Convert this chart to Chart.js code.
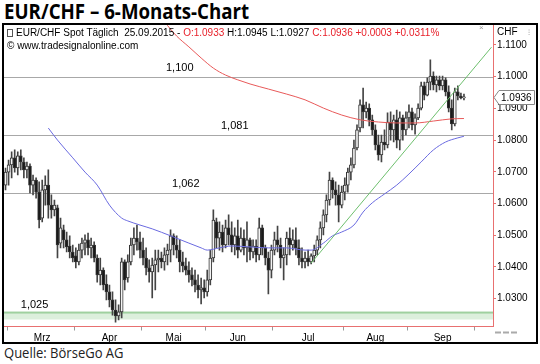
<!DOCTYPE html>
<html>
<head>
<meta charset="utf-8">
<script src="https://cdn.jsdelivr.net/npm/chart.js@4.4.0/dist/chart.umd.min.js"></script>
<style>
html, body { margin: 0; padding: 0; background: #fff; }
body { width: 540px; height: 364px; position: relative; overflow: hidden; font-family: "Liberation Sans", Arial, sans-serif; }
#title { position: absolute; left: 4px; top: -3px; font-family: "Open Sans", sans-serif; font-weight: bold; font-size: 21px; color: #000; transform: scaleX(0.89); transform-origin: left top; white-space: nowrap; }
#frame { position: absolute; left: 2px; top: 23px; width: 532px; height: 317px; border: 2px solid #000; }
#frame canvas { position: absolute; left: 0; top: 0; }
.head { position: absolute; left: 3px; font-size: 10px; color: #000; white-space: nowrap; }
.red { color: #e8202a; }
.icon { display: inline-block; width: 4px; height: 6px; border: 1px solid #555; margin-right: 3px; vertical-align: -1px; }
#src { position: absolute; left: 4px; top: 343px; font-family: "Open Sans", sans-serif; font-size: 14px; color: #222; transform: scaleX(0.93); transform-origin: left top; white-space: nowrap; }
</style>
</head>
<body>
<div id="title">EUR/CHF – 6-Monats-Chart</div>
<div id="frame">
  <canvas id="chart" width="532" height="317"></canvas>
  <div class="head" style="top:2px;"><span class="icon"></span>EUR/CHF Spot Täglich&nbsp; 25.09.2015 - <span class="red">O:1.0933</span> H:1.0945 L:1.0927 <span class="red">C:1.0936 +0.0003 +0.0311%</span></div>
  <div class="head" style="top:15px;">© www.tradesignalonline.com</div>
</div>
<div id="src">Quelle: BörseGo AG</div>
<script>
// daily candles, 27.02.2015 - 25.09.2015
const openP = [
  1.0658, 1.0699, 1.0722, 1.0744, 1.0712, 1.0750, 1.0731, 1.0706, 1.0718, 1.0658,
  1.0674, 1.0636, 1.0554, 1.0643, 1.0658, 1.0595, 1.0580, 1.0586, 1.0475, 1.0517,
  1.0485, 1.0466, 1.0447, 1.0435, 1.0416, 1.0453, 1.0475, 1.0485, 1.0460, 1.0469,
  1.0428, 1.0375, 1.0390, 1.0346, 1.0321, 1.0296, 1.0264, 1.0245, 1.0258, 1.0416,
  1.0365, 1.0416, 1.0469, 1.0491, 1.0479, 1.0453, 1.0428, 1.0397, 1.0384, 1.0406,
  1.0422, 1.0428, 1.0416, 1.0438, 1.0453, 1.0498, 1.0469, 1.0453, 1.0416, 1.0403,
  1.0390, 1.0375, 1.0359, 1.0343, 1.0327, 1.0334, 1.0321, 1.0359, 1.0428, 1.0542,
  1.0491, 1.0510, 1.0469, 1.0523, 1.0501, 1.0469, 1.0498, 1.0453, 1.0491, 1.0460,
  1.0485, 1.0447, 1.0466, 1.0438, 1.0523, 1.0460, 1.0428, 1.0390, 1.0453, 1.0485,
  1.0469, 1.0428, 1.0438, 1.0491, 1.0469, 1.0485, 1.0460, 1.0428, 1.0416, 1.0428,
  1.0416, 1.0435, 1.0453, 1.0485, 1.0523, 1.0564, 1.0611, 1.0674, 1.0643, 1.0627,
  1.0595, 1.0636, 1.0658, 1.0699, 1.0722, 1.0775, 1.0838, 1.0911, 1.0889, 1.0901,
  1.0864, 1.0832, 1.0785, 1.0753, 1.0794, 1.0785, 1.0857, 1.0832, 1.0864, 1.0800,
  1.0870, 1.0832, 1.0870, 1.0889, 1.0848, 1.0870, 1.0901, 1.0971, 1.0942, 1.0983,
  1.1002, 1.0974, 1.0990, 1.0971, 1.0990, 1.0952, 1.0901, 1.0851, 1.0952, 1.0939,
  1.0933
];
const highP = [
  1.0712, 1.0737, 1.0763, 1.0769, 1.0763, 1.0769, 1.0744, 1.0731, 1.0725, 1.0690,
  1.0681, 1.0668, 1.0674, 1.0687, 1.0706, 1.0627, 1.0611, 1.0595, 1.0554, 1.0532,
  1.0510, 1.0498, 1.0469, 1.0460, 1.0472, 1.0491, 1.0501, 1.0507, 1.0491, 1.0479,
  1.0438, 1.0428, 1.0397, 1.0375, 1.0343, 1.0321, 1.0296, 1.0280, 1.0428, 1.0422,
  1.0438, 1.0491, 1.0523, 1.0532, 1.0510, 1.0491, 1.0460, 1.0422, 1.0428, 1.0453,
  1.0453, 1.0447, 1.0460, 1.0472, 1.0517, 1.0504, 1.0498, 1.0485, 1.0447, 1.0428,
  1.0416, 1.0397, 1.0390, 1.0375, 1.0365, 1.0359, 1.0390, 1.0453, 1.0580, 1.0554,
  1.0542, 1.0532, 1.0548, 1.0564, 1.0542, 1.0523, 1.0548, 1.0523, 1.0517, 1.0542,
  1.0491, 1.0485, 1.0485, 1.0554, 1.0532, 1.0469, 1.0447, 1.0469, 1.0510, 1.0529,
  1.0491, 1.0460, 1.0510, 1.0523, 1.0517, 1.0523, 1.0485, 1.0460, 1.0447, 1.0453,
  1.0441, 1.0469, 1.0498, 1.0542, 1.0580, 1.0627, 1.0699, 1.0681, 1.0668, 1.0658,
  1.0655, 1.0681, 1.0712, 1.0744, 1.0800, 1.0848, 1.0927, 1.0964, 1.0920, 1.0914,
  1.0879, 1.0848, 1.0816, 1.0816, 1.0832, 1.0886, 1.0889, 1.0879, 1.0895, 1.0889,
  1.0879, 1.0889, 1.0911, 1.0901, 1.0883, 1.0914, 1.0983, 1.0983, 1.0996, 1.1053,
  1.1015, 1.1002, 1.1002, 1.1002, 1.0996, 1.0971, 1.0927, 1.0964, 1.0971, 1.0948,
  1.0945
];
const lowP = [
  1.0643, 1.0658, 1.0681, 1.0699, 1.0690, 1.0706, 1.0681, 1.0681, 1.0633, 1.0627,
  1.0617, 1.0523, 1.0542, 1.0595, 1.0554, 1.0554, 1.0561, 1.0428, 1.0460, 1.0460,
  1.0447, 1.0428, 1.0416, 1.0397, 1.0406, 1.0428, 1.0438, 1.0438, 1.0428, 1.0416,
  1.0352, 1.0343, 1.0327, 1.0296, 1.0274, 1.0248, 1.0226, 1.0233, 1.0239, 1.0327,
  1.0352, 1.0406, 1.0438, 1.0453, 1.0428, 1.0406, 1.0375, 1.0352, 1.0302, 1.0327,
  1.0384, 1.0397, 1.0390, 1.0406, 1.0416, 1.0438, 1.0428, 1.0384, 1.0384, 1.0375,
  1.0352, 1.0340, 1.0321, 1.0302, 1.0283, 1.0302, 1.0308, 1.0343, 1.0416, 1.0460,
  1.0453, 1.0447, 1.0460, 1.0469, 1.0447, 1.0438, 1.0428, 1.0447, 1.0438, 1.0416,
  1.0422, 1.0428, 1.0416, 1.0422, 1.0438, 1.0406, 1.0315, 1.0365, 1.0438, 1.0447,
  1.0397, 1.0359, 1.0406, 1.0438, 1.0453, 1.0438, 1.0406, 1.0397, 1.0397, 1.0403,
  1.0409, 1.0416, 1.0438, 1.0460, 1.0501, 1.0542, 1.0595, 1.0617, 1.0595, 1.0542,
  1.0586, 1.0611, 1.0636, 1.0674, 1.0712, 1.0769, 1.0826, 1.0838, 1.0870, 1.0845,
  1.0816, 1.0769, 1.0737, 1.0731, 1.0769, 1.0775, 1.0800, 1.0794, 1.0775, 1.0769,
  1.0800, 1.0816, 1.0838, 1.0832, 1.0819, 1.0864, 1.0895, 1.0927, 1.0939, 1.0958,
  1.0958, 1.0952, 1.0958, 1.0958, 1.0939, 1.0889, 1.0832, 1.0845, 1.0927, 1.0930,
  1.0927
];
const closeP = [
  1.0699, 1.0722, 1.0744, 1.0712, 1.0750, 1.0731, 1.0706, 1.0718, 1.0658, 1.0674,
  1.0636, 1.0548, 1.0643, 1.0658, 1.0595, 1.0580, 1.0595, 1.0469, 1.0523, 1.0485,
  1.0463, 1.0447, 1.0428, 1.0416, 1.0453, 1.0475, 1.0485, 1.0460, 1.0469, 1.0428,
  1.0375, 1.0390, 1.0343, 1.0321, 1.0296, 1.0264, 1.0245, 1.0258, 1.0416, 1.0359,
  1.0416, 1.0469, 1.0491, 1.0479, 1.0453, 1.0428, 1.0397, 1.0384, 1.0406, 1.0422,
  1.0428, 1.0416, 1.0438, 1.0453, 1.0498, 1.0469, 1.0453, 1.0416, 1.0403, 1.0390,
  1.0375, 1.0359, 1.0343, 1.0327, 1.0334, 1.0321, 1.0359, 1.0428, 1.0548, 1.0491,
  1.0510, 1.0469, 1.0523, 1.0501, 1.0469, 1.0498, 1.0453, 1.0491, 1.0460, 1.0485,
  1.0447, 1.0466, 1.0438, 1.0523, 1.0460, 1.0428, 1.0390, 1.0453, 1.0485, 1.0469,
  1.0428, 1.0438, 1.0491, 1.0469, 1.0485, 1.0460, 1.0428, 1.0416, 1.0428, 1.0416,
  1.0435, 1.0453, 1.0485, 1.0523, 1.0564, 1.0611, 1.0674, 1.0643, 1.0627, 1.0595,
  1.0636, 1.0658, 1.0699, 1.0722, 1.0775, 1.0832, 1.0911, 1.0889, 1.0901, 1.0864,
  1.0832, 1.0785, 1.0753, 1.0794, 1.0785, 1.0857, 1.0832, 1.0864, 1.0800, 1.0870,
  1.0832, 1.0870, 1.0889, 1.0848, 1.0870, 1.0901, 1.0971, 1.0942, 1.0983, 1.1002,
  1.0974, 1.0990, 1.0971, 1.0990, 1.0952, 1.0901, 1.0851, 1.0952, 1.0939, 1.0933,
  1.0936
];

// moving averages as [day index, value]
const maRed = [
  [52, 1.1173], [56, 1.1128], [60, 1.1094], [64, 1.1059], [68, 1.1027], [72, 1.1005],
  [76, 1.0990], [80, 1.0977], [86, 1.0961], [92, 1.0945], [98, 1.0927], [104, 1.0901],
  [110, 1.0879], [116, 1.0864], [122, 1.0857], [128, 1.0854], [134, 1.0854], [140, 1.0860],
  [146, 1.0867], [150, 1.0868]
];
const maBlue = [
  [14, 1.0838], [17, 1.0800], [22, 1.0744], [26, 1.0699], [30, 1.0658], [34, 1.0595],
  [38, 1.0554], [40, 1.0545], [44, 1.0532], [48, 1.0520], [54, 1.0498], [60, 1.0475],
  [64, 1.0460], [66, 1.0453], [70, 1.0460], [74, 1.0466], [80, 1.0463], [86, 1.0460],
  [92, 1.0460], [98, 1.0453], [100, 1.0453], [104, 1.0475], [107, 1.0498], [110, 1.0510],
  [114, 1.0532], [117, 1.0573], [120, 1.0602], [124, 1.0630], [128, 1.0658], [132, 1.0693],
  [136, 1.0731], [140, 1.0769], [144, 1.0794], [148, 1.0807], [150, 1.0812]
];
const trendLine = [[100, 1.0412], [159, 1.1093]];

// horizontal levels
const levelLines = [1.1000, 1.0815, 1.0632];
const levelLabels = ['1,100', '1,081', '1,062'];
const supportBand = [1.0234, 1.0256];
const supportLabel = '1,025';

// axes
const slotCount = 160;
const yTicks = [1.03, 1.04, 1.05, 1.06, 1.07, 1.08, 1.09, 1.10, 1.11];
const monthLabels = ['Mrz', 'Apr', 'Mai', 'Jun', 'Jul', 'Aug', 'Sep'];
const monthLabelIndex = [12, 34, 55, 76, 99, 121, 143];
const monthTickIndex = [1, 23, 45, 66, 88, 111, 132, 154];

const days = Array.from({ length: slotCount }, (_, i) => i);
const bodies = openP.map((o, i) => [Math.min(o, closeP[i]), Math.max(o, closeP[i])]);
const wicks = lowP.map((l, i) => [l, highP[i]]);
const bodyColors = openP.map((o, i) => closeP[i] >= o ? '#f4f4f4' : '#1a1a1a');
const toPoints = arr => arr.map(p => ({ x: p[0], y: p[1] }));

const levelsPlugin = {
    id: 'levels',
    beforeDatasetsDraw(chart) {
        const { ctx, chartArea: a, scales: { x, y } } = chart;
        ctx.save();
        // green support band
        const bTop = y.getPixelForValue(supportBand[1]);
        const bBot = y.getPixelForValue(supportBand[0]);
        ctx.fillStyle = '#dcefdc';
        ctx.fillRect(a.left, bTop, a.right - a.left, bBot - bTop);
        ctx.fillStyle = '#9fd09f';
        ctx.fillRect(a.left, bTop - 1, a.right - a.left, 2);
        ctx.font = '11px "Liberation Sans", Arial, sans-serif';
        ctx.textAlign = 'center';
        ctx.textBaseline = 'alphabetic';
        ctx.fillStyle = '#000';
        ctx.fillText(supportLabel, x.getPixelForValue(9.5), bTop - 5);
        // grey level lines
        const labelAt = [57, 75, 59];
        levelLines.forEach((v, k) => {
            const py = Math.round(y.getPixelForValue(v)) + 0.5;
            ctx.strokeStyle = '#a8a8a8';
            ctx.lineWidth = 1;
            ctx.beginPath();
            ctx.moveTo(a.left, py);
            ctx.lineTo(a.right, py);
            ctx.stroke();
            ctx.fillStyle = '#000';
            ctx.fillText(levelLabels[k], x.getPixelForValue(labelAt[k]), py - 7);
        });
        ctx.restore();
    },
    afterDraw(chart) {
        const { ctx, chartArea: a, scales: { y } } = chart;
        const w = chart.width;
        ctx.save();
        ctx.font = '10px "Liberation Sans", Arial, sans-serif';
        ctx.fillStyle = '#000';
        ctx.textBaseline = 'middle';
        ctx.textAlign = 'left';
        ctx.fillText('CHF', a.right + 4, 7);
        ctx.fillStyle = '#999';
        ctx.font = '8px "Liberation Sans", Arial, sans-serif';
        ctx.fillText('×', a.right - 14, 3);
        ctx.fillText('⁝', w - 8, 8);
        // little zoom buttons under the price axis
        ctx.fillStyle = '#aaa';
        [0, 8, 16].forEach(dx => ctx.fillRect(a.right + 2 + dx, a.bottom + 5, 6, 2));
        // last price tag
        const last = closeP[closeP.length - 1];
        const py = Math.round(y.getPixelForValue(last)) + 0.5;
        ctx.beginPath();
        ctx.moveTo(a.right + 1, py);
        ctx.lineTo(a.right + 6, py - 7);
        ctx.lineTo(w - 1.5, py - 7);
        ctx.lineTo(w - 1.5, py + 7);
        ctx.lineTo(a.right + 6, py + 7);
        ctx.closePath();
        ctx.fillStyle = '#fff';
        ctx.fill();
        ctx.strokeStyle = '#888';
        ctx.lineWidth = 1;
        ctx.stroke();
        ctx.fillStyle = '#000';
        ctx.font = '10px "Liberation Sans", Arial, sans-serif';
        ctx.fillText(last.toFixed(4), a.right + 8, py + 0.5);
        ctx.restore();
    }
};

new Chart(document.getElementById('chart'), {
    type: 'bar',
    data: {
        labels: days,
        datasets: [
            {
                type: 'line', data: toPoints(trendLine), borderColor: '#6dbf6d', borderWidth: 1,
                pointRadius: 0, spanGaps: true
            },
            {
                type: 'line', data: toPoints(maRed), borderColor: '#e85a5a', borderWidth: 1,
                pointRadius: 0, cubicInterpolationMode: 'monotone', spanGaps: true
            },
            {
                type: 'line', data: toPoints(maBlue), borderColor: '#6a6ae0', borderWidth: 1,
                pointRadius: 0, cubicInterpolationMode: 'monotone', spanGaps: true
            },
            {
                data: bodies, backgroundColor: bodyColors, borderColor: '#333', borderWidth: 1,
                borderSkipped: false, barThickness: 3, grouped: false, minBarLength: 1
            },
            {
                data: wicks, backgroundColor: '#444', borderWidth: 0,
                barThickness: 1, grouped: false
            }
        ]
    },
    options: {
        responsive: false,
        animation: false,
        layout: { padding: 0 },
        plugins: { legend: { display: false }, tooltip: { enabled: false } },
        scales: {
            x: {
                type: 'category',
                offset: true,
                grid: {
                    offset: true, drawOnChartArea: false, tickLength: 4,
                    color: ctx => monthTickIndex.includes(ctx.index) ? '#999' : 'rgba(0,0,0,0)'
                },
                border: { color: '#e87070' },
                ticks: {
                    autoSkip: false, maxRotation: 0, padding: 2,
                    font: { size: 10, family: '"Liberation Sans", Arial, sans-serif' }, color: '#000',
                    callback: (v, i) => {
                        const k = monthLabelIndex.indexOf(i);
                        return k >= 0 ? monthLabels[k] : '';
                    }
                },
                afterFit: s => { s.height = 15.5; s.paddingLeft = 0; s.paddingRight = 0; }
            },
            y: {
                position: 'right',
                min: 1.0212,
                max: 1.1163,
                afterBuildTicks: s => { s.ticks = yTicks.map(v => ({ value: v })); },
                grid: { drawOnChartArea: false, tickLength: 3, color: '#e87070' },
                border: { color: '#e87070' },
                ticks: {
                    padding: 1, color: '#000',
                    font: { size: 10, family: '"Liberation Sans", Arial, sans-serif' },
                    callback: v => v.toFixed(4)
                },
                afterFit: s => { s.width = 43; s.paddingTop = 0; s.paddingBottom = 0; }
            }
        }
    },
    plugins: [levelsPlugin]
});
</script>
</body>
</html>
